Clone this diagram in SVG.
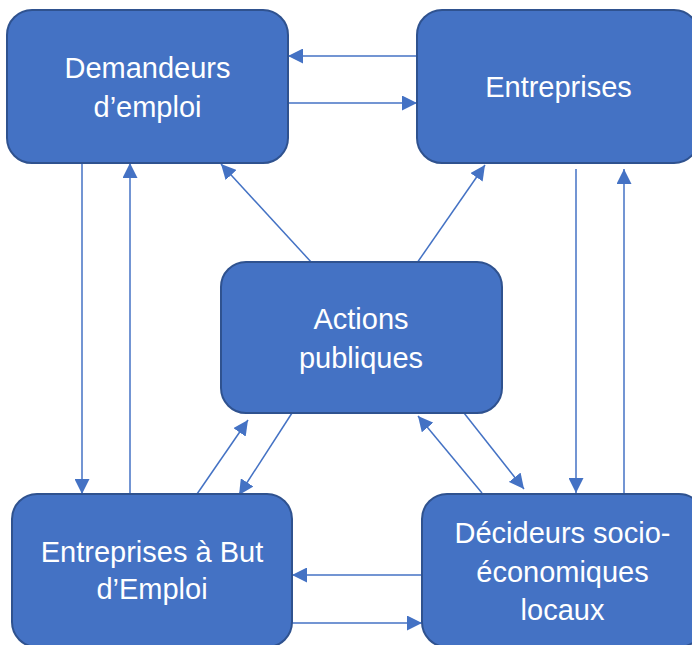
<svg xmlns="http://www.w3.org/2000/svg" width="692" height="645" viewBox="0 0 692 645">
  <style>
    .box { fill: #4472C4; stroke: #2F528F; stroke-width: 2; }
    .lbl { fill: #FFFFFF; font-family: "Liberation Sans", Arial, sans-serif; font-size: 29px; text-anchor: middle; }
    .conn line { stroke: #4472C4; stroke-width: 1.5; fill: none; marker-end: url(#arrow); }
  </style>
  <defs>
    <marker id="arrow" markerUnits="userSpaceOnUse" markerWidth="15" markerHeight="15" refX="15" refY="7.5" orient="auto">
      <path d="M0,0 L15,7.5 L0,15 z" fill="#4472C4"/>
    </marker>
  </defs>
  <rect width="692" height="645" fill="#FFFFFF"/>

  <g id="connectors" class="conn">
    <line x1="417" y1="56" x2="288" y2="56"/>
    <line x1="288" y1="103" x2="417" y2="103"/>
    <line x1="82" y1="163" x2="82" y2="494"/>
    <line x1="130" y1="494" x2="130" y2="163"/>
    <line x1="312" y1="263" x2="221" y2="164"/>
    <line x1="417" y1="263" x2="485" y2="165"/>
    <line x1="197" y1="494" x2="248" y2="420"/>
    <line x1="292" y1="413" x2="239" y2="495"/>
    <line x1="482" y1="493" x2="418" y2="416"/>
    <line x1="464" y1="413" x2="524" y2="489"/>
    <line x1="576" y1="169" x2="576" y2="493"/>
    <line x1="624" y1="494" x2="624" y2="169"/>
    <line x1="422" y1="575" x2="292" y2="575"/>
    <line x1="292" y1="623" x2="422" y2="623"/>
  </g>

  <g id="demandeurs">
    <rect class="box" x="7" y="10" width="281" height="153" rx="25" ry="25"/>
    <text class="lbl" x="147.5" y="78">Demandeurs</text>
    <text class="lbl" x="147.5" y="117">d’emploi</text>
  </g>

  <g id="entreprises">
    <rect class="box" x="417" y="10" width="282" height="153" rx="25" ry="25"/>
    <text class="lbl" x="558.5" y="97">Entreprises</text>
  </g>

  <g id="actions">
    <rect class="box" x="221" y="262" width="281" height="151" rx="25" ry="25"/>
    <text class="lbl" x="361" y="329">Actions</text>
    <text class="lbl" x="361" y="368">publiques</text>
  </g>

  <g id="ebe">
    <rect class="box" x="12" y="494" width="280" height="153" rx="25" ry="25"/>
    <text class="lbl" x="152" y="562">Entreprises à But</text>
    <text class="lbl" x="152" y="599">d’Emploi</text>
  </g>

  <g id="decideurs">
    <rect class="box" x="422" y="494" width="282" height="153" rx="25" ry="25"/>
    <text class="lbl" x="562.5" y="543">Décideurs socio-</text>
    <text class="lbl" x="562.5" y="582">économiques</text>
    <text class="lbl" x="562.5" y="620">locaux</text>
  </g>
</svg>
